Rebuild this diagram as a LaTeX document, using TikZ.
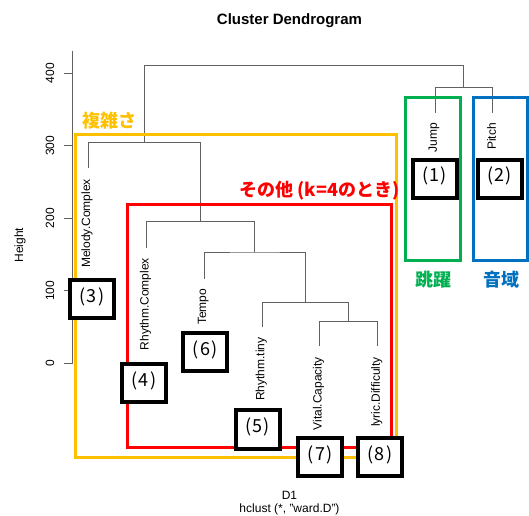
\documentclass[tikz,border=0pt]{standalone}
\usepackage{fontspec}
\setmainfont{Liberation Sans}
\newfontfamily\jpfont{Noto Sans CJK JP}
\definecolor{cyel}{HTML}{FFC000}
\definecolor{cred}{HTML}{FF0000}
\definecolor{cgrn}{HTML}{00B050}
\definecolor{cblu}{HTML}{0070C0}
\begin{document}
\begin{tikzpicture}[x=1pt,y=-1pt,
  dend/.style={draw=black!62, line width=0.9pt},
  axisline/.style={draw=black!62, line width=0.9pt},
  rtext/.style={font=\fontsize{12}{14}\selectfont, inner sep=0pt},
  leaflab/.style={rtext, rotate=90, anchor=east},
  ticklab/.style={rtext, rotate=90},
  grp/.style={line width=3pt},
  grplab/.style={font=\jpfont\bfseries\fontsize{18}{20}\selectfont, inner sep=0pt},
  numbox/.style={draw=black, line width=4pt, fill=white, minimum width=44pt, minimum height=38.3pt, inner sep=0pt},
  numlab/.style={font=\jpfont\fontsize{18}{20}\selectfont, inner sep=0pt}]
\useasboundingbox (0,0) rectangle (529,515);
% title
\node[font=\bfseries\fontsize{15}{17}\selectfont] (title) at (289.5,20.5) {Cluster Dendrogram};
% axis
\coordinate (axtop) at (72.7,50.7);
\coordinate (axbot) at (72.7,363.3);
\draw[axisline] (axtop) -- (axbot);
\foreach \v/\y in {0/363.3,100/290.8,200/218.3,300/145.8,400/73.3}{
  \coordinate (t\v) at (72.7,\y);
  \draw[axisline] (t\v) -- ++(-8.7,0);
  \node[ticklab] (tl\v) at (50,\y) {\v};
}
\node[rtext, rotate=90] (ylab) at (20,245) {Height};
% dendrogram
\coordinate (l1) at (88,168);
\coordinate (l2) at (146.5,248);
\coordinate (l3) at (204.3,278.7);
\coordinate (l4) at (262.3,327.3);
\coordinate (l5) at (319.5,346);
\coordinate (l6) at (377.7,346);
\coordinate (l7) at (435,113);
\coordinate (l8) at (492.7,113);
\coordinate (m56) at (348.6,321.3);
\coordinate (m456) at (305.4,302.7);
\coordinate (m3456) at (254.9,252);
\coordinate (mtwo) at (200.7,221.3);
\coordinate (mone) at (144.4,142.7);
\coordinate (m78) at (463.9,87.7);
\coordinate (root) at (304.1,65.3);
\draw[dend] (l5) |- (m56) -| (l6);
\draw[dend] (l4) |- (m456) -| (m56);
\draw[dend] (l3) |- (m3456) -| (m456);
\draw[dend] (l2) |- (mtwo) -| (m3456);
\draw[dend] (l1) |- (mone) -| (mtwo);
\draw[dend] (l7) |- (m78) -| (l8);
\draw[dend] (mone) |- (root) -| (m78);
% leaf labels
\node[leaflab] (n1) at ([xshift=-1pt,yshift=-11pt]l1) {Melody.Complex};
\node[leaflab] (n2) at ([xshift=-1pt,yshift=-10pt]l2) {Rhythm.Complex};
\node[leaflab] (n3) at ([xshift=-1pt,yshift=-10pt]l3) {Tempo};
\node[leaflab] (n4) at ([xshift=-1pt,yshift=-10pt]l4) {Rhythm.tiny};
\node[leaflab] (n5) at ([xshift=-1pt,yshift=-11pt]l5) {Vital.Capacity};
\node[leaflab] (n6) at ([xshift=-1pt,yshift=-11pt]l6) {lyric.Difficulty};
\node[leaflab] (n7) at ([xshift=-1pt,yshift=-10pt]l7) {Jump};
\node[leaflab] (n8) at ([xshift=-1pt,yshift=-10pt]l8) {Pitch};
% bottom texts
\node[rtext] (xlab) at (289.5,495) {D1};
\node[rtext] (sub) at (289.5,509.5) {hclust (*, "ward.D")};
% group rectangles
\draw[grp, cyel] (75,134.3) rectangle (396.7,457.7);
\draw[grp, cred] (127,204.7) rectangle (391.3,447.7);
\draw[grp, cgrn] (405,97.7) rectangle (460,260);
\draw[grp, cblu] (473.3,97.7) rectangle (527.3,260);
% group labels
\node[grplab, text=cyel] (gy) at (109.5,121) {複雑さ};
\node[grplab, text=cred] (gr) at (319.5,190.5) {その他 (k=4のとき)};
\node[grplab, text=cgrn] (gg) at (433.4,280) {跳躍};
\node[grplab, text=cblu] (gb) at (501,280) {音域};
% numbered boxes
\foreach \k/\cx/\cy in {1/434.7/178.7, 2/499.7/178.7, 3/92/299.2, 4/143.9/383.2, 6/205.2/352.2, 5/257.7/429.5, 7/320.2/457.2, 8/379.9/457.2}{
  \node[numbox] (b\k) at (\cx,\cy) {};
  \node[numlab] (bl\k) at ([yshift=2.5pt]b\k.center) {(\kern1.2pt\k\kern1.2pt)};
}
\end{tikzpicture}
\end{document}
